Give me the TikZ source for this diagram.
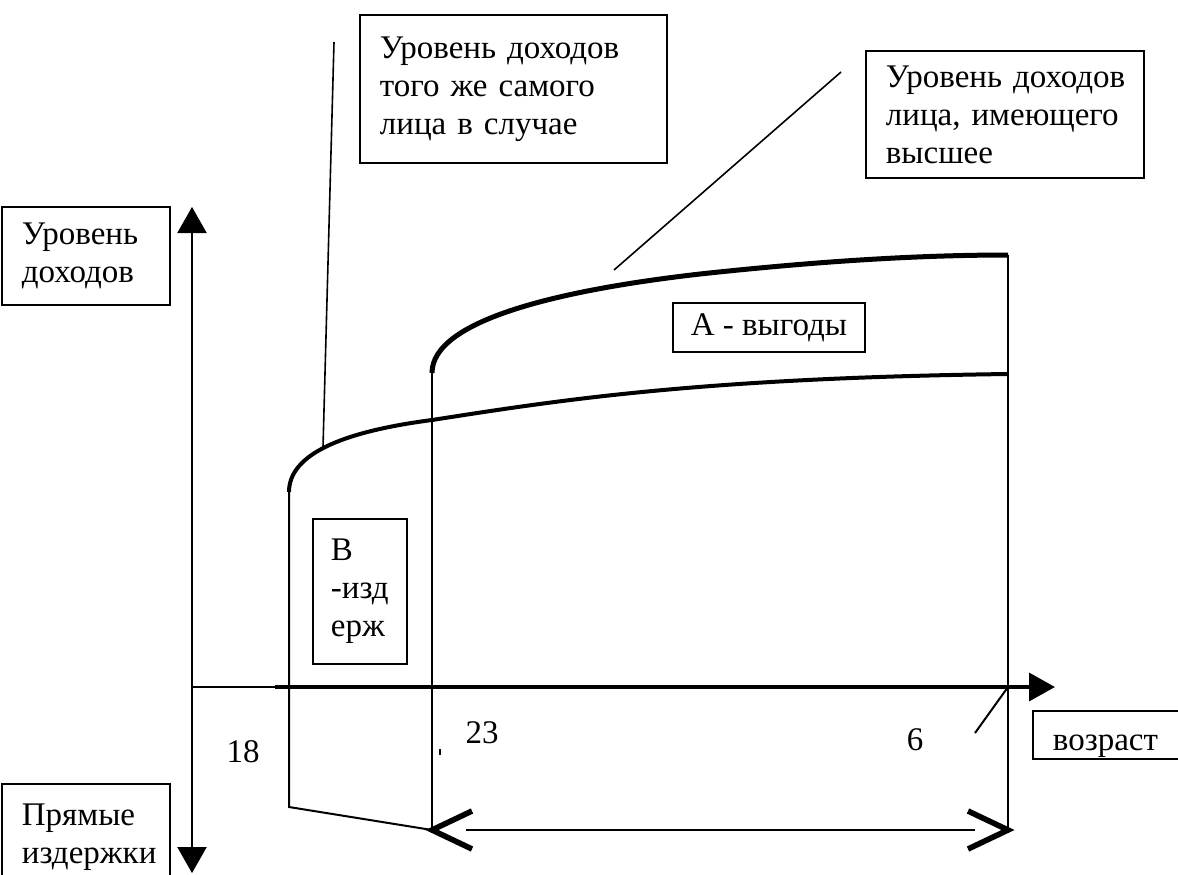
\documentclass[tikz,border=0pt]{standalone}
\usepackage{fontspec}
\setmainfont{Liberation Serif}
\usetikzlibrary{arrows.meta,positioning}

\begin{document}
\begin{tikzpicture}[x=0.5pt,y=-0.5pt,line width=1pt,
	every node/.style={font=\fontsize{16.5}{19}\selectfont},
	text box/.style={draw,anchor=north west,align=left,inner xsep=10pt,line width=0.9pt},
	axis/.style={-{Triangle[length=13pt,width=14pt]}},
	both axis/.style={{Triangle[length=13pt,width=14.5pt]}-{Triangle[length=13pt,width=14.5pt]},line width=1.2pt},
	barb/.style={line width=2.8pt,miter limit=20}]

	\useasboundingbox (0,0) rectangle (1178,874);
	\clip (0,0) rectangle (1178,874);

	\node[text box,text width=64pt,minimum height=49pt] (income) at (1,206) {Уровень\\доходов};
	\node[text box,text width=64pt,minimum height=53pt] (direct) at (1,783) {Прямые\\издержки};
	\node[text box,text width=133.5pt,minimum height=74pt] (same) at (359,14) {Уровень~доходов\\того~же~самого\\лица~в~случае};
	\node[text box,text width=119pt,minimum height=63.5pt] (higher) at (865,50) {Уровень~доходов\\лица,~имеющего\\высшее};
	\node[text box,align=center,inner xsep=4pt,minimum width=96pt,minimum height=24.5pt] (benefit) at (672,302) {А - выгоды};
	\node[text box,text width=29pt,inner xsep=9pt,minimum height=72.5pt] (cost) at (312,518) {В\\-изд\\ерж};
	\node[text box,text width=64pt,minimum height=24pt,inner ysep=2pt,text height=16pt,text depth=0pt] (age) at (1032,710) {возраст};

	\node (age18) at (243,752) {18};
	\node (age23) at (482,733) {23};
	\node (age6) at (915,740) {6};

	\coordinate (ytop) at (192,207);
	\coordinate (ybot) at (192,873);
	\coordinate (xleft) at (193,687);
	\coordinate (xmid) at (275,687);
	\coordinate (xtip) at (1055,687);
	\coordinate (s18top) at (289,492);
	\coordinate (s18bot) at (289,807);
	\coordinate (s23top) at (432,373);
	\coordinate (s23bot) at (432,830);
	\coordinate (s6top) at (1008,255);
	\coordinate (s6low) at (1008,374);
	\coordinate (s6axis) at (1008,687);
	\coordinate (s6bot) at (1008,830);
	\coordinate (slash) at (975,733);
	\coordinate (tick a) at (440,749);
	\coordinate (tick b) at (440,755);
	\coordinate (lead1 top) at (334,42);
	\coordinate (lead1 end) at (323,447);
	\coordinate (lead2 top) at (841,72);
	\coordinate (lead2 end) at (614,270);
	\coordinate (span left) at (466,830);
	\coordinate (span right) at (975,830);

	\draw[both axis] (ybot) -- (ytop);
	\draw[line width=0.8pt] (xleft) -- (xmid);
	\draw[axis,line width=1.8pt] (xmid) -- (xtip);

	\draw (s18top) -- (s18bot) -- (s23bot);
	\draw (s23top) -- (s23bot);
	\draw (s6top) -- (s6bot);
	\draw (s6axis) -- (slash);
	\draw[line width=0.8pt] (tick a) -- (tick b);

	\draw[line width=1.3pt] (span left) -- (span right);
	\draw[barb] (472,811) -- (s23bot) -- (472,849);
	\draw[barb] (968,811) -- (s6bot) -- (968,849);

	\draw[line width=2pt] (s18top) .. controls (289,455) and (340,432) .. (432,420)
		.. controls (560,400) and (700,378) .. (s6low);
	\draw[line width=2.5pt] (s23top) .. controls (432,320) and (560,290) .. (700,274)
		.. controls (820,261) and (920,255) .. (s6top);

	\draw[line width=0.8pt] (lead1 top) -- (lead1 end);
	\draw[line width=0.8pt] (lead2 top) -- (lead2 end);
\end{tikzpicture}
\end{document}
